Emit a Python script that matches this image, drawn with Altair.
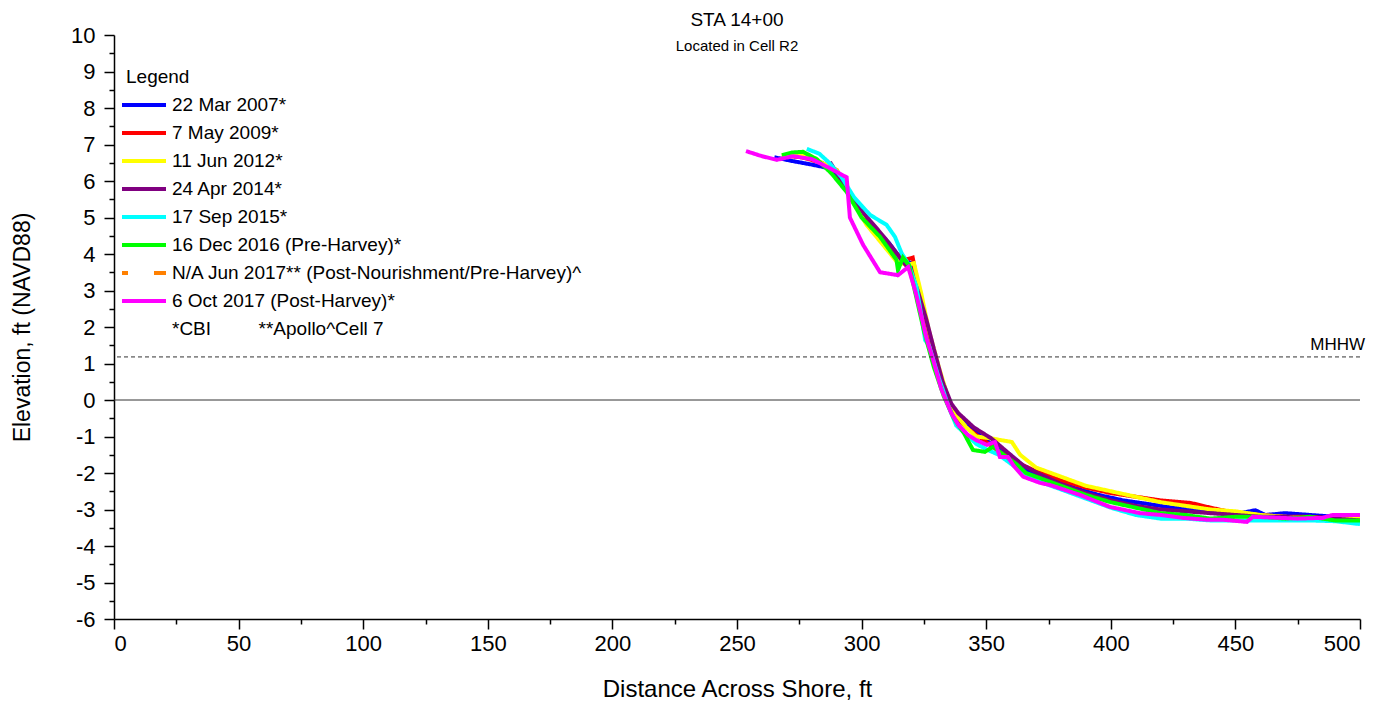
import altair as alt
import pandas as pd

FONT = "Liberation Sans"

series_names = [
    "22 Mar 2007*",
    "7 May 2009*",
    "11 Jun 2012*",
    "24 Apr 2014*",
    "17 Sep 2015*",
    "16 Dec 2016 (Pre-Harvey)*",
    "N/A Jun 2017** (Post-Nourishment/Pre-Harvey)^",
    "6 Oct 2017 (Post-Harvey)*",
    "*CBI" + "\u00a0" * 9 + "**Apollo^Cell 7",
]
series_colors = ["#0000FF", "#FF0000", "#FFFF00", "#800080", "#00FFFF",
                 "#00FF00", "#FF8000", "#FF00FF", "transparent"]
series_dash = [[1, 0], [1, 0], [1, 0], [1, 0], [1, 0], [1, 0],
               [6, 26, 12, 100], [1, 0], [1, 0]]

# 22 Mar 2007
x_2007 = [265, 272, 280, 287, 292, 296, 301, 306, 311, 316, 320, 323, 326, 330, 334, 337, 342, 348, 355, 360,
          367, 375, 385, 395, 405, 415, 425, 435, 445, 452, 458, 462, 470, 480, 490, 500]
y_2007 = [6.65, 6.55, 6.45, 6.35, 6.0, 5.5, 5.0, 4.65, 4.3, 3.85, 3.75, 3.0, 2.0, 1.0, 0.1, -0.35, -0.7, -1.0,
          -1.35, -1.6, -1.95, -2.15, -2.4, -2.6, -2.75, -2.85, -2.95, -3.0, -3.05, -3.1, -3.02, -3.15, -3.1,
          -3.15, -3.2, -3.2]
# 7 May 2009
x_2009 = [268, 276, 284, 290, 296, 302, 308, 314, 318, 320.5, 323, 326, 330, 334, 337, 342, 348, 355, 362, 370,
          380, 390, 400, 410, 420, 432, 440, 450, 460, 470, 480, 490, 500]
y_2009 = [6.7, 6.65, 6.5, 6.3, 5.6, 4.95, 4.5, 4.0, 3.85, 3.9, 3.0, 2.0, 1.0, 0.1, -0.4, -0.75, -1.05, -1.4,
          -1.7, -1.95, -2.2, -2.4, -2.55, -2.65, -2.75, -2.82, -2.95, -3.1, -3.15, -3.2, -3.2, -3.25, -3.25]
# 11 Jun 2012
x_2012 = [268, 276, 284, 290, 296, 302, 308, 314, 318, 321, 324, 327, 331, 335, 338, 342, 346, 352, 356, 360.3,
          363.6, 370, 380, 390, 400, 410, 420, 430, 440, 450, 460, 470, 480, 490, 500]
y_2012 = [6.7, 6.72, 6.5, 6.3, 5.5, 4.8, 4.3, 3.8, 3.7, 3.75, 2.9, 1.9, 0.9, 0.0, -0.4, -0.75, -1.0, -1.05,
          -1.1, -1.15, -1.5, -1.85, -2.1, -2.35, -2.5, -2.65, -2.8, -2.9, -3.0, -3.05, -3.15, -3.2, -3.25,
          -3.25, -3.2]
# 24 Apr 2014
x_2014 = [287.3, 292, 296, 301, 306.6, 310, 316, 319.4, 322.5, 326, 329, 332.5, 336, 338.8, 345, 352, 358, 365,
          372, 380, 390, 400, 410, 420, 430, 440, 450, 460, 470, 480, 490, 500]
y_2014 = [6.52, 6.0, 5.6, 5.1, 4.66, 4.38, 3.84, 3.56, 3.0, 2.2, 1.4, 0.5, -0.1, -0.36, -0.75, -1.05, -1.4,
          -1.8, -2.05, -2.3, -2.55, -2.75, -2.9, -3.0, -3.05, -3.1, -3.15, -3.2, -3.2, -3.25, -3.25, -3.3]
# 17 Sep 2015
x_2015 = [278, 283, 287, 292, 297, 303.4, 310, 313.4, 316, 319, 322, 324, 325.5, 327, 331, 335, 338, 342, 346,
          350, 355, 360, 365, 370, 380, 390, 400, 410, 420, 430, 440, 450, 460, 470, 480, 490, 500]
y_2015 = [6.88, 6.75, 6.5, 6.1, 5.55, 5.07, 4.8, 4.47, 4.03, 3.7, 3.1, 2.3, 1.64, 1.5, 0.6, -0.2, -0.7, -0.95,
          -1.2, -1.35, -1.5, -1.75, -2.0, -2.2, -2.45, -2.7, -2.95, -3.15, -3.25, -3.25, -3.3, -3.3, -3.3,
          -3.3, -3.3, -3.32, -3.4]
# 16 Dec 2016
x_2016 = [268, 272, 276.5, 282, 288, 294, 300, 307.4, 314, 314.6, 316.6, 319, 322, 325, 329, 333, 337, 341,
          344.7, 349.5, 352.8, 357, 362, 366, 372, 380, 390, 400, 410, 420, 430, 440, 450, 460, 470, 480, 490,
          500]
y_2016 = [6.71, 6.78, 6.8, 6.6, 6.2, 5.7, 5.0, 4.47, 3.84, 3.56, 3.9, 3.7, 2.8, 1.9, 0.9, 0.1, -0.5, -0.9,
          -1.37, -1.42, -1.28, -1.5, -1.75, -2.0, -2.15, -2.35, -2.6, -2.8, -2.95, -3.1, -3.15, -3.25, -3.2,
          -3.2, -3.25, -3.2, -3.3, -3.3]
# 6 Oct 2017
x_2017 = [253.6, 260, 266, 272.5, 280, 287, 294, 295.3, 300.6, 307.4, 314.6, 318.7, 321.5, 323.4, 326, 328.7,
          332, 336, 339, 342.7, 346, 350.3, 353.5, 355.5, 358.7, 361, 364.8, 371.6, 375.6, 387.6, 399.7, 411.7,
          420, 429, 438.6, 445, 454.6, 457, 465, 475, 485, 489, 500]
y_2017 = [6.82, 6.68, 6.58, 6.68, 6.6, 6.36, 6.1, 5.0, 4.25, 3.5, 3.42, 3.64, 3.0, 2.47, 1.7, 1.1, 0.3, -0.36,
          -0.7, -0.96, -1.1, -1.23, -1.15, -1.56, -1.56, -1.8, -2.1, -2.27, -2.33, -2.6, -2.93, -3.1, -3.15,
          -3.23, -3.28, -3.28, -3.34, -3.2, -3.22, -3.25, -3.23, -3.15, -3.15]

profiles = [
    (series_names[0], x_2007, y_2007),
    (series_names[1], x_2009, y_2009),
    (series_names[2], x_2012, y_2012),
    (series_names[3], x_2014, y_2014),
    (series_names[4], x_2015, y_2015),
    (series_names[5], x_2016, y_2016),
    (series_names[7], x_2017, y_2017),
]

ref_names = ["zero", "MHHW"]
ref_values = [0.0, 1.18]

y_ticks = [v / 2 for v in range(-12, 21)]
x_ticks = list(range(0, 501, 25))

rows = []
for order, (name, xs, ys) in enumerate(profiles):
    for xv, yv in zip(xs, ys):
        rows.append({"series": name, "dist": xv, "elev": yv, "ord": order})
df = pd.DataFrame(rows)

x_scale = alt.Scale(domain=[0, 500], nice=False, zero=False)
y_scale = alt.Scale(domain=[-6, 10], nice=False, zero=False)

x_axis = alt.Axis(
    values=x_ticks, title="Distance Across Shore, ft",
    labelExpr="datum.value % 50 === 0 ? '' + datum.value : ''",
    tickSize={"condition": {"test": "datum.value % 50 === 0", "value": 10}, "value": 5},
    grid=False, labelPadding=4, titlePadding=23, labelOverlap=False, titleFontSize=24,
)
y_axis = alt.Axis(
    values=y_ticks, title="Elevation, ft (NAVD88)",
    labelExpr="datum.value % 1 === 0 ? '' + datum.value : ''",
    tickSize={"condition": {"test": "datum.value % 1 === 0", "value": 10}, "value": 5},
    grid=False, labelPadding=9, titlePadding=36, labelOverlap=False, titleFontSize=23,
)

legend = alt.Legend(
    orient="none", legendX=12, legendY=33, title="Legend",
    titleFontSize=19, titleFontWeight="normal", titleFont=FONT, titleColor="black",
    labelFontSize=19, labelFont=FONT, labelColor="black", labelLimit=0,
    symbolType="M-1.375,0H1.375", symbolSize=1024, symbolStrokeWidth=4, symbolOpacity=1,
    symbolFillColor="transparent",
    rowPadding=0, labelOffset=10, padding=0, titlePadding=0,
)

lines = alt.Chart(df).mark_line(strokeWidth=4, clip=True).encode(
    x=alt.X("dist:Q", scale=x_scale, axis=x_axis),
    y=alt.Y("elev:Q", scale=y_scale, axis=y_axis),
    color=alt.Color("series:N", scale=alt.Scale(domain=series_names, range=series_colors), legend=legend),
    strokeDash=alt.StrokeDash("series:N", scale=alt.Scale(domain=series_names, range=series_dash), legend=legend),
    order=alt.Order("dist:Q"),
    detail="ord:N",
)

ref_df = pd.DataFrame({"name": ref_names, "value": ref_values})
zero_rule = alt.Chart(ref_df[ref_df["name"] == "zero"]).mark_rule(color="#333333", strokeWidth=1).encode(
    y=alt.Y("value:Q", scale=y_scale, axis=y_axis)
)
mhhw_rule = alt.Chart(ref_df[ref_df["name"] == "MHHW"]).mark_rule(
    color="#333333", strokeWidth=1, strokeDash=[4, 3]
).encode(y=alt.Y("value:Q", scale=y_scale, axis=y_axis))

label_df = pd.DataFrame({"label": ["MHHW"], "dist": [500], "value": [ref_values[1]]})
mhhw_text = alt.Chart(label_df).mark_text(
    align="right", baseline="bottom", dx=5, dy=-3, font=FONT, fontSize=17, color="black"
).encode(
    x=alt.X("dist:Q", scale=x_scale, axis=x_axis),
    y=alt.Y("value:Q", scale=y_scale, axis=y_axis),
    text="label:N",
)

chart = alt.layer(lines, zero_rule, mhhw_rule, mhhw_text).properties(
    width=1246, height=584,
    padding={"left": 106, "top": 27, "right": 22, "bottom": 90},
    autosize=alt.AutoSizeParams(type="none"),
    title=alt.TitleParams(
        text="STA 14+00", subtitle="Located in Cell R2",
        font=FONT, subtitleFont=FONT, fontSize=19, subtitleFontSize=15,
        fontWeight="normal", color="black", subtitleColor="black",
        anchor="middle", offset=-30, subtitlePadding=9,
    ),
).configure_view(stroke=None).configure_axis(
    labelFont=FONT, titleFont=FONT, labelFontSize=22, titleFontSize=24,
    titleFontWeight="normal", labelColor="black", titleColor="black",
    domainColor="black", tickColor="black", domainWidth=1.5, tickWidth=1.5,
    labelOverlap=False,
)

chart.save("out.html", embed_options={"renderer": "svg", "actions": False})
